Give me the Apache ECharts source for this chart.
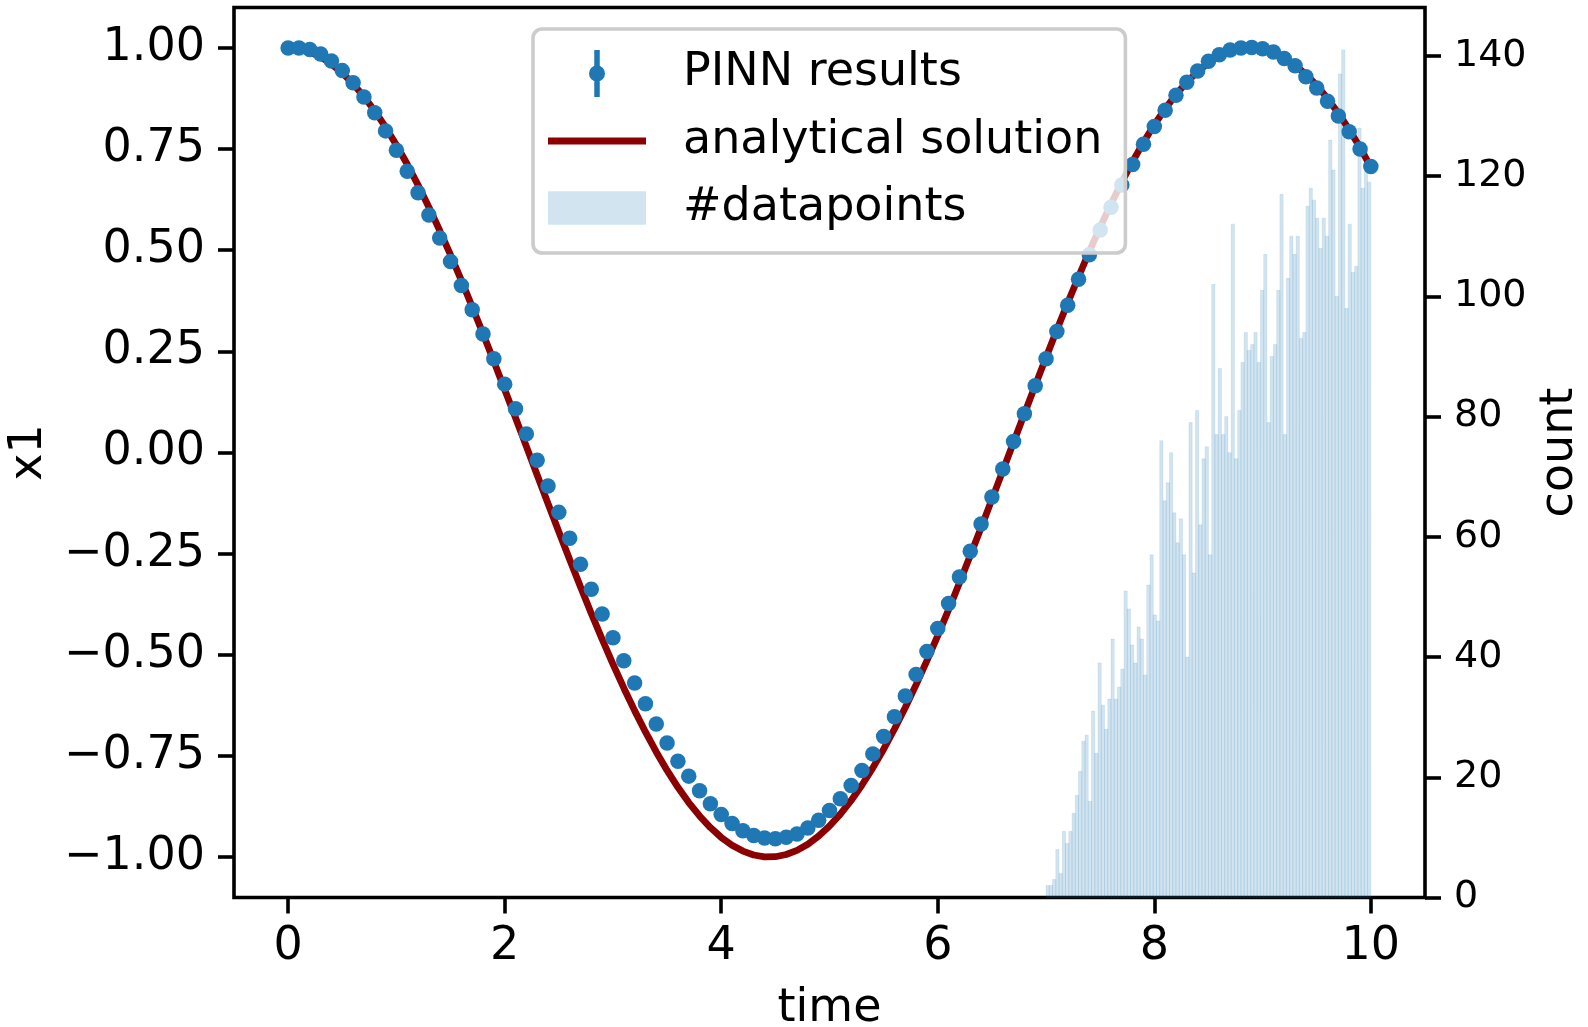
<!DOCTYPE html>
<html>
<head>
<meta charset="utf-8">
<title>PINN results vs analytical solution</title>
<script src="https://cdn.jsdelivr.net/npm/echarts@6/dist/echarts.min.js"></script>
<style>
  html, body { margin: 0; padding: 0; background: #ffffff; }
  #chart { width: 1588px; height: 1027px; }
</style>
</head>
<body>
<div id="chart"></div>
<script>
// ---- data ----
// sampling step of the time grid (s)
const timeStep = 0.1;

// PINN prediction of x1 at t = 0.0, 0.1, ..., 10.0
const pinnValues = [
  1.000, 1.000, 0.996, 0.985, 0.968, 0.944, 0.914, 0.879, 0.840, 0.795,
  0.747, 0.695, 0.642, 0.587, 0.530, 0.472, 0.413, 0.353, 0.293, 0.232,
  0.169, 0.108, 0.046, -0.019, -0.083, -0.148, -0.212, -0.276, -0.338, -0.399,
  -0.458, -0.515, -0.570, -0.621, -0.671, -0.718, -0.763, -0.800, -0.836, -0.868,
  -0.895, -0.917, -0.935, -0.947, -0.953, -0.955, -0.951, -0.943, -0.928, -0.909,
  -0.885, -0.856, -0.823, -0.786, -0.745, -0.702, -0.653, -0.602, -0.549, -0.492,
  -0.435, -0.373, -0.308, -0.244, -0.177, -0.110, -0.041, 0.027, 0.096, 0.165,
  0.232, 0.299, 0.364, 0.428, 0.489, 0.550, 0.606, 0.661, 0.712, 0.762,
  0.806, 0.846, 0.883, 0.915, 0.943, 0.967, 0.983, 0.995, 1.000, 1.001,
  0.998, 0.990, 0.974, 0.956, 0.929, 0.901, 0.868, 0.832, 0.793, 0.750,
  0.707
];

// analytical solution x1(t) on the same time grid
const analyticalValues = [
  1.0000, 0.9975, 0.9900, 0.9776, 0.9603, 0.9382, 0.9113, 0.8800, 0.8442, 0.8042,
  0.7602, 0.7125, 0.6611, 0.6064, 0.5487, 0.4883, 0.4254, 0.3604, 0.2936, 0.2253,
  0.1559, 0.0858, 0.0152, -0.0555, -0.1259, -0.1957, -0.2645, -0.3320, -0.3978, -0.4616,
  -0.5231, -0.5820, -0.6380, -0.6908, -0.7402, -0.7859, -0.8276, -0.8652, -0.8984, -0.9272,
  -0.9514, -0.9708, -0.9853, -0.9949, -0.9995, -0.9992, -0.9938, -0.9835, -0.9683, -0.9482,
  -0.9234, -0.8940, -0.8601, -0.8219, -0.7796, -0.7334, -0.6835, -0.6303, -0.5738, -0.5145,
  -0.4527, -0.3885, -0.3225, -0.2548, -0.1858, -0.1159, -0.0455, 0.0252, 0.0958, 0.1659,
  0.2351, 0.3032, 0.3698, 0.4345, 0.4971, 0.5571, 0.6144, 0.6686, 0.7195, 0.7667,
  0.8102, 0.8496, 0.8847, 0.9154, 0.9416, 0.9630, 0.9797, 0.9914, 0.9982, 0.9999,
  0.9967, 0.9886, 0.9754, 0.9574, 0.9346, 0.9072, 0.8752, 0.8388, 0.7982, 0.7537,
  0.7054
];

// histogram of training data points: 100 bins of width 0.03 starting at t = 7
const histStart = 7.0;
const histBinWidth = 0.03;
const histCounts = [
  2, 2, 3, 8, 4, 11, 9, 11, 14, 17,
  21, 26, 27, 16, 31, 24, 39, 32, 28, 33,
  43, 33, 35, 38, 51, 48, 42, 39, 45, 43,
  37, 52, 57, 47, 46, 76, 66, 69, 74, 64,
  59, 63, 57, 40, 79, 54, 81, 62, 73, 75,
  57, 102, 77, 88, 77, 80, 74, 112, 73, 81,
  89, 94, 91, 92, 94, 89, 101, 107, 79, 90,
  92, 101, 117, 77, 103, 110, 107, 110, 93, 94,
  115, 118, 116, 113, 108, 113, 110, 126, 121, 100,
  137, 141, 98, 112, 104, 105, 128, 118, 125, 119
];

// axis ticks
const timeTicks = [0, 2, 4, 6, 8, 10];
const x1Ticks = [-1, -0.75, -0.5, -0.25, 0, 0.25, 0.5, 0.75, 1];
const countTicks = [0, 20, 40, 60, 80, 100, 120, 140];

// ---- build series data ----
const pinnData = pinnValues.map((v, i) => [+(i * timeStep).toFixed(1), v]);
const analyticalData = analyticalValues.map((v, i) => [+(i * timeStep).toFixed(1), v]);
const histData = histCounts.map((c, i) => {
  const x0 = histStart + i * histBinWidth;
  return [x0, x0 + histBinWidth, c];
});
const countMax = Math.max(...histCounts) * 1.05;

// ---- style ----
const FONT = 'DejaVu Sans';
const C_BLUE = '#1f77b4';
const C_RED = '#8b0000';
const C_HIST = 'rgba(31,119,180,0.2)';
const SPINE = 3.6;

const fmtX1 = v => (v < 0 ? '\u2212' : '') + Math.abs(v).toFixed(2);

const chart = echarts.init(document.getElementById('chart'), null, { renderer: 'canvas' });

chart.setOption({
  animation: false,
  backgroundColor: '#ffffff',
  grid: {
    left: 234, top: 7.5, right: 163, bottom: 129.5,
    containLabel: false,
    outerBoundsMode: 'none',
    show: true, borderColor: '#000', borderWidth: SPINE, backgroundColor: 'transparent'
  },
  legend: {
    orient: 'vertical',
    left: 533, top: 29,
    padding: [21, 23, 22, 15],
    itemWidth: 98, itemHeight: 47, itemGap: 21,
    symbolKeepAspect: true,
    backgroundColor: 'rgba(255,255,255,0.8)',
    borderColor: '#cccccc', borderWidth: 3.6, borderRadius: 9,
    textStyle: { fontFamily: FONT, fontSize: 46, color: '#000', padding: [0, 0, 0, 32] },
    data: [
      { name: 'PINN results',
        icon: 'path://M-2.75,0 h5.5 v16 h-5.5 Z M-2.75,31 h5.5 v16 h-5.5 Z M-8,23.5 a8,8 0 1,1 16,0 a8,8 0 1,1 -16,0 Z',
        itemStyle: { color: C_BLUE } },
      { name: 'analytical solution',
        icon: 'path://M0,0 h98 v7 h-98 Z',
        itemStyle: { color: C_RED } },
      { name: '#datapoints',
        icon: 'path://M0,0 h94 v32 h-94 Z',
        itemStyle: { color: C_HIST } }
    ]
  },
  xAxis: {
    type: 'value', min: -0.5, max: 10.5, position: 'bottom',
    name: 'time', nameLocation: 'middle', nameGap: 89,
    nameTextStyle: { fontFamily: FONT, fontSize: 46, color: '#000' },
    axisLine: { show: false, onZero: false },
    axisTick: { show: true, inside: false, length: 16, customValues: timeTicks,
                lineStyle: { color: '#000', width: SPINE } },
    axisLabel: { show: true, customValues: timeTicks, margin: 27,
                 fontFamily: FONT, fontSize: 46, color: '#000' },
    splitLine: { show: false }
  },
  yAxis: [
    {
      type: 'value', min: -1.1, max: 1.1, position: 'left',
      name: 'x1', nameLocation: 'middle', nameRotate: 90, nameGap: 182,
      nameTextStyle: { fontFamily: FONT, fontSize: 46, color: '#000' },
      axisLine: { show: false, onZero: false },
      axisTick: { show: true, length: 16, customValues: x1Ticks,
                  lineStyle: { color: '#000', width: SPINE } },
      axisLabel: { show: true, customValues: x1Ticks, margin: 29, formatter: fmtX1,
                   fontFamily: FONT, fontSize: 46, color: '#000' },
      splitLine: { show: false }
    },
    {
      type: 'value', min: 0, max: countMax, position: 'right',
      name: 'count', nameLocation: 'middle', nameRotate: 90, nameGap: 108,
      nameTextStyle: { fontFamily: FONT, fontSize: 46, color: '#000' },
      axisLine: { show: false, onZero: false },
      axisTick: { show: true, length: 16, customValues: countTicks,
                  lineStyle: { color: '#000', width: SPINE } },
      axisLabel: { show: true, customValues: countTicks, margin: 29,
                   fontFamily: FONT, fontSize: 38, color: '#000' },
      splitLine: { show: false }
    }
  ],
  series: [
    {
      name: '#datapoints',
      type: 'custom',
      xAxisIndex: 0, yAxisIndex: 1,
      z: 1,
      itemStyle: { color: C_HIST },
      encode: { x: [0, 1], y: 2 },
      data: histData,
      renderItem: function (params, api) {
        const p0 = api.coord([api.value(0), api.value(2)]);
        const p1 = api.coord([api.value(1), 0]);
        return {
          type: 'rect',
          shape: { x: p0[0], y: p0[1], width: p1[0] - p0[0], height: p1[1] - p0[1] },
          style: { fill: C_HIST, stroke: 'rgba(31,119,180,0.18)', lineWidth: 0.6 }
        };
      }
    },
    {
      name: 'analytical solution',
      type: 'line',
      xAxisIndex: 0, yAxisIndex: 0,
      z: 2,
      data: analyticalData,
      symbol: 'none', showSymbol: false,
      itemStyle: { color: C_RED },
      lineStyle: { color: C_RED, width: 6.8 }
    },
    {
      name: 'PINN results',
      type: 'scatter',
      xAxisIndex: 0, yAxisIndex: 0,
      z: 3,
      data: pinnData,
      symbol: 'circle', symbolSize: 15.5,
      itemStyle: { color: C_BLUE, opacity: 1 }
    }
  ]
});
</script>
</body>
</html>
